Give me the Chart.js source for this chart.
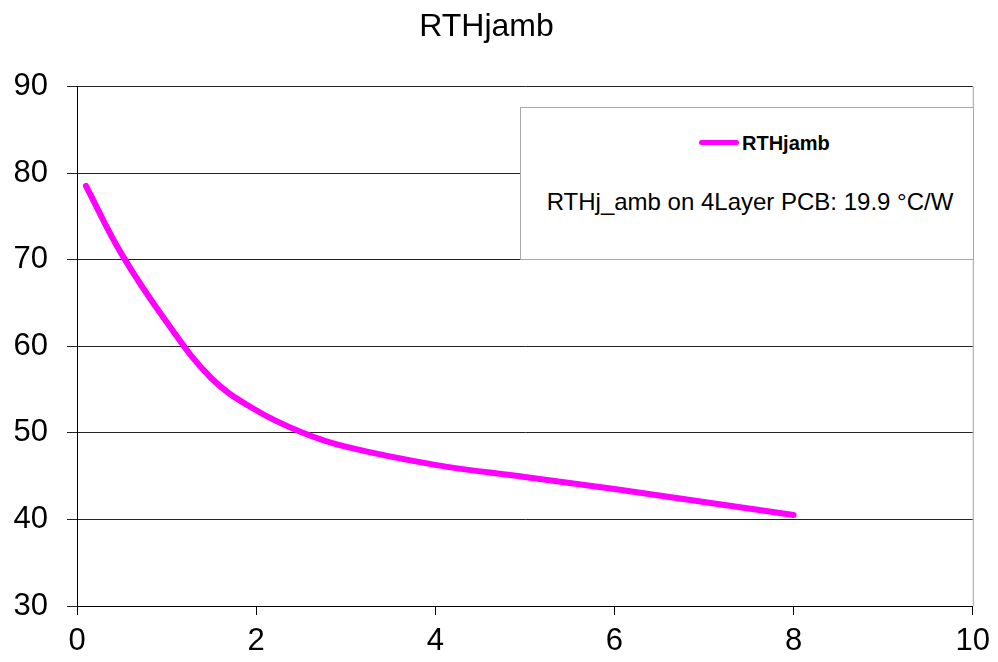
<!DOCTYPE html>
<html>
<head>
<meta charset="utf-8">
<script src="https://cdn.jsdelivr.net/npm/chart.js@4/dist/chart.umd.min.js"></script>
<style>
  html, body { margin: 0; padding: 0; background: #fff; }
  #wrap { position: relative; width: 998px; height: 662px; }
  #legendBox {
    position: absolute; left: 520px; top: 107px; width: 452px; height: 151px;
    border: 1px solid #a8a8a8; background: #fff;
    font-family: "Liberation Sans", Arial, sans-serif; color: #000;
  }
  #legendItem { position: absolute; left: 178px; top: 23px; font-weight: bold; font-size: 20px; line-height: 24px; }
  #legendItem span.swatch { display: inline-block; width: 40px; height: 5px; background: #ff00ff; border-radius: 3px; vertical-align: middle; margin-right: 3px; position: relative; top: -2px; }
  #note { position: absolute; left: 0; right: 0; top: 80px; text-align: center; font-size: 24px; line-height: 28px; padding-left: 6px; }
</style>
</head>
<body>
<div id="wrap">
  <canvas id="chartRth" width="998" height="662"></canvas>
  <div id="legendBox">
    <div id="legendItem"><span class="swatch"></span>RTHjamb</div>
    <div id="note">RTHj_amb on 4Layer PCB: 19.9 °C/W</div>
  </div>
</div>
<script>
// values
const xValues = [0.1, 0.5, 1, 1.5, 2, 2.5, 3, 4, 5, 6, 7, 8];
const rthValues = [78.5, 70.6, 62.8, 56.3, 52.6, 50.1, 48.4, 46.3, 44.9, 43.5, 42.0, 40.5];
const xTicks = [0, 2, 4, 6, 8, 10];
const yTicks = [30, 40, 50, 60, 70, 80, 90];

const points = xValues.map((x, i) => ({ x: x, y: rthValues[i] }));

// right edge of the plot frame
const frame = {
  id: 'frame',
  beforeDatasetsDraw(chart) {
    const a = chart.chartArea;
    const ctx = chart.ctx;
    ctx.save();
    ctx.strokeStyle = '#a0a0a0';
    ctx.lineWidth = 1;
    ctx.beginPath();
    ctx.moveTo(a.right + 0.5, a.top);
    ctx.lineTo(a.right + 0.5, a.bottom);
    ctx.stroke();
    ctx.restore();
  }
};

const ctx = document.getElementById('chartRth').getContext('2d');
const myChart = new Chart(ctx, {
  type: 'scatter',
  data: {
    datasets: [{
      label: 'RTHjamb',
      data: points,
      showLine: true,
      borderColor: '#ff00ff',
      borderWidth: 6,
      borderCapStyle: 'round',
      pointRadius: 0,
      tension: 0.4,
      fill: false
    }]
  },
  options: {
    responsive: false,
    animation: false,
    layout: { padding: { left: 0, right: 25, top: 0, bottom: 0 } },
    plugins: {
      legend: { display: false },
      tooltip: { enabled: false },
      title: {
        display: true,
        text: 'RTHjamb',
        color: '#000',
        font: { family: 'Liberation Sans', size: 32, weight: 'normal' },
        padding: { top: 8, bottom: 40 }
      }
    },
    scales: {
      x: {
        type: 'linear',
        min: 0, max: 10,
        afterBuildTicks: s => { s.ticks = xTicks.map(v => ({ value: v })); },
        afterFit: s => { s.height = 56; },
        ticks: { color: '#000', font: { family: 'Liberation Sans', size: 31 }, padding: 8, maxRotation: 0 },
        grid: { drawOnChartArea: false, drawTicks: true, tickLength: 9, color: '#000' },
        border: { color: '#000', width: 1 }
      },
      y: {
        type: 'linear',
        min: 30, max: 90,
        afterBuildTicks: s => { s.ticks = yTicks.map(v => ({ value: v })); },
        afterFit: s => { s.width = 77; },
        ticks: { color: '#000', font: { family: 'Liberation Sans', size: 31 }, padding: 19 },
        grid: { color: '#222', lineWidth: 1, tickLength: 10 },
        border: { color: '#000', width: 1 }
      }
    }
  },
  plugins: [frame]
});
</script>
</body>
</html>
